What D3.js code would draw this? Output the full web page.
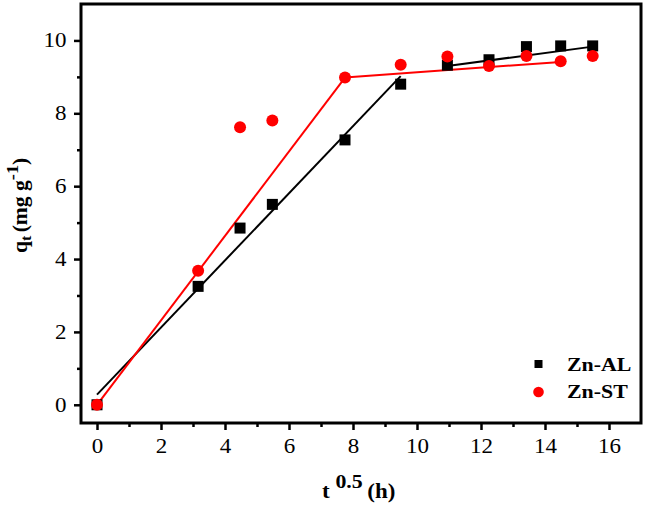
<!DOCTYPE html>
<html>
<head>
<meta charset="utf-8">
<script src="https://cdn.jsdelivr.net/npm/d3@7"></script>
<style>
  body { margin: 0; background: #fff; }
  svg { display: block; }
  svg text { font-family: "Liberation Serif", "Times New Roman", Times, serif; fill: #000; }
</style>
</head>
<body>
<svg id="chart" width="647" height="505"></svg>
<script>
// data
const tHalf = [0, 3.16, 4.47, 5.48, 7.75, 9.49, 10.95, 12.25, 13.42, 14.49, 15.49];
const qAL = [0, 3.25, 4.85, 5.5, 7.27, 8.8, 9.32, 9.47, 9.83, 9.85, 9.85];
const qST = [0, 3.68, 7.62, 7.8, 8.98, 9.33, 9.56, 9.3, 9.57, 9.43, 9.57];
// fitted line segments [x, y]
const fitAL = [[[0, 0.28], [9.49, 9.02]], [[10.95, 9.3], [15.49, 9.83]]];
const fitST = [[[0, 0], [7.75, 8.98]], [[7.75, 8.98], [14.49, 9.41]]];
const xTicks = [0, 2, 4, 6, 8, 10, 12, 14, 16];
const yTicks = [0, 2, 4, 6, 8, 10];

const svg = d3.select('#chart');
const mLeft = 81, mRight = 641, mTop = 4, mBottom = 423;
const stretch = 1.15; // the source text is a bit wider than Times

const x = d3.scaleLinear().domain([-0.5, 17]).range([mLeft, mRight]);
const y = d3.scaleLinear().domain([-0.5, 11]).range([mBottom, mTop]);

// minor ticks
const xMinor = d3.range(1, 17, 2);
const yMinor = d3.range(1, 11, 2);

svg.append('g').attr('transform', `translate(0,${mBottom})`)
  .call(d3.axisBottom(x).tickValues(xTicks).tickSize(7).tickSizeOuter(0).tickPadding(9))
  .selectAll('.tick text').attr('transform', `scale(${stretch},1)`);
svg.append('g').attr('transform', `translate(0,${mBottom})`)
  .call(d3.axisBottom(x).tickValues(xMinor).tickSize(4).tickFormat('').tickSizeOuter(0));

svg.append('g').attr('transform', `translate(${mLeft},0)`)
  .call(d3.axisLeft(y).tickValues(yTicks).tickSize(7).tickSizeOuter(0).tickPadding(7))
  .selectAll('.tick text')
  .attr('x', -14.5 / stretch)
  .attr('transform', `scale(${stretch},1)`);
svg.append('g').attr('transform', `translate(${mLeft},0)`)
  .call(d3.axisLeft(y).tickValues(yMinor).tickSize(4).tickFormat('').tickSizeOuter(0));

svg.selectAll('g').attr('font-family', null).attr('font-size', null);
svg.selectAll('.tick line').attr('stroke', '#000').attr('stroke-width', 2.5);
svg.selectAll('.domain').remove();
svg.selectAll('.tick text').attr('font-size', 20);

// frame
svg.append('rect')
  .attr('x', mLeft).attr('y', mTop)
  .attr('width', mRight - mLeft).attr('height', mBottom - mTop)
  .attr('fill', 'none').attr('stroke', '#000').attr('stroke-width', 3);

// fit lines
const line = d3.line().x(d => x(d[0])).y(d => y(d[1]));
fitAL.forEach(seg => svg.append('path').attr('d', line(seg))
  .attr('stroke', '#000').attr('stroke-width', 2).attr('fill', 'none'));
fitST.forEach(seg => svg.append('path').attr('d', line(seg))
  .attr('stroke', '#ff0000').attr('stroke-width', 2).attr('fill', 'none'));

// markers
const sq = 11;
svg.append('g').selectAll('rect')
  .data(tHalf.map((t, i) => [t, qAL[i]]))
  .join('rect')
  .attr('x', d => x(d[0]) - sq / 2)
  .attr('y', d => y(d[1]) - sq / 2)
  .attr('width', sq).attr('height', sq)
  .attr('fill', '#000');

svg.append('g').selectAll('circle')
  .data(tHalf.map((t, i) => [t, qST[i]]))
  .join('circle')
  .attr('cx', d => x(d[0]))
  .attr('cy', d => y(d[1]))
  .attr('r', 6)
  .attr('fill', '#ff0000');

// legend
const legend = svg.append('g').attr('font-weight', 'bold').attr('font-size', 19);
legend.append('rect').attr('x', 534.5).attr('y', 360).attr('width', 8).attr('height', 8).attr('fill', '#000');
legend.append('text').attr('transform', `translate(567,371) scale(${stretch},1)`).text('Zn-AL');
legend.append('circle').attr('cx', 538.5).attr('cy', 392).attr('r', 5.3).attr('fill', '#ff0000');
legend.append('text').attr('transform', `translate(567,398) scale(${stretch},1)`).text('Zn-ST');

// x label
const xl = svg.append('text').attr('transform', `translate(322,498) scale(${stretch},1)`)
  .attr('font-weight', 'bold').attr('font-size', 20);
xl.append('tspan').text('t ');
xl.append('tspan').attr('dy', -10).attr('font-size', 19).text('0.5');
xl.append('tspan').attr('dy', 10).attr('dx', 4).attr('font-size', 20).text('(h)');

// y label
const yl = svg.append('text')
  .attr('transform', 'translate(27,253) rotate(-90) scale(1.08,1)')
  .attr('font-weight', 'bold').attr('font-size', 20);
yl.append('tspan').text('q');
yl.append('tspan').attr('dy', 4).attr('font-size', 15).text('t');
yl.append('tspan').attr('dy', -4).attr('dx', 3).text('(mg g');
yl.append('tspan').attr('dy', -9).attr('font-size', 17).text('-1');
yl.append('tspan').attr('dy', 9).text(')');
</script>
</body>
</html>
